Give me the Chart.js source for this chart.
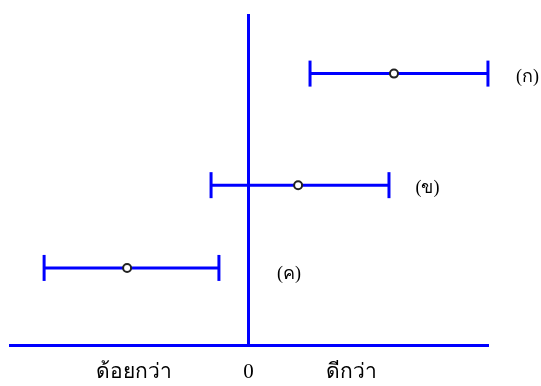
<!DOCTYPE html>
<html>
<head>
<meta charset="utf-8">
<script src="https://cdn.jsdelivr.net/npm/chart.js@4/dist/chart.umd.min.js"></script>
<style>
  html, body { margin: 0; padding: 0; background: #fff; }
  #wrap { width: 541px; height: 386px; }
</style>
</head>
<body>
<div id="wrap"><canvas id="c"></canvas></div>
<script>
// rows (top to bottom)
const rowNames  = ['(ก)', '(ข)', '(ค)'];
const rowY      = [8.2, 4.83, 2.33];
const lows      = [2.58, -1.57, -8.57];
const highs     = [10.04, 5.89, -1.24];
const centers   = [6.1, 2.08, -5.09];
// where the row names sit
const nameX     = [11.7, 7.5, 1.7];
const nameY     = [8.1, 4.74, 2.14];
// bottom axis
const tickPos   = [-4.8, 0, 4.3];
const tickNames = ['ด้อยกว่า', '0', 'ดีกว่า'];

const BLUE = '#0000ff';

const rowLabels = {
  id: 'rowLabels',
  afterDatasetsDraw(chart) {
    const { ctx, scales: { x, y } } = chart;
    ctx.save();
    ctx.fillStyle = '#000';
    ctx.font = '18px "Liberation Serif", serif';
    ctx.textAlign = 'center';
    ctx.textBaseline = 'middle';
    rowNames.forEach((t, i) => ctx.fillText(t, x.getPixelForValue(nameX[i]), y.getPixelForValue(nameY[i])));
    ctx.restore();
  }
};

const intervals = rowNames.map((n, i) => ({
  label: n,
  data: [{ x: lows[i], y: rowY[i] }, { x: highs[i], y: rowY[i] }],
  showLine: true,
  borderColor: BLUE, borderWidth: 3,
  pointStyle: 'line', rotation: 90, pointRadius: 13,
  pointBorderColor: BLUE, pointBorderWidth: 3,
  clip: false
}));

new Chart(document.getElementById('c'), {
  type: 'scatter',
  data: {
    datasets: [{
      label: 'center',
      data: centers.map((v, i) => ({ x: v, y: rowY[i] })),
      pointStyle: 'circle', pointRadius: 4,
      pointBackgroundColor: '#fff', pointBorderColor: '#222', pointBorderWidth: 2,
      clip: false
    }, ...intervals]
  },
  options: {
    responsive: true,
    maintainAspectRatio: false,
    animation: false,
    layout: { autoPadding: false, padding: { left: 10, right: 54, top: 14, bottom: -13 } },
    plugins: { legend: { display: false }, tooltip: { enabled: false } },
    scales: {
      x: {
        type: 'linear', min: -10, max: 10,
        afterBuildTicks: axis => { axis.ticks = tickPos.map(v => ({ value: v })); },
        ticks: {
          color: '#000', padding: 13, autoSkip: false, maxRotation: 0,
          font: { family: '"Liberation Serif", serif', size: 21, lineHeight: 1.33 },
          callback: (v, i) => tickNames[i]
        },
        grid: {
          drawTicks: false,
          color: ctx => (ctx.tick && ctx.tick.value === 0) ? BLUE : 'rgba(0,0,0,0)',
          lineWidth: 3
        },
        border: { color: BLUE, width: 3 }
      },
      y: { type: 'linear', min: 0, max: 10, display: false }
    }
  },
  plugins: [rowLabels]
});
</script>
</body>
</html>
